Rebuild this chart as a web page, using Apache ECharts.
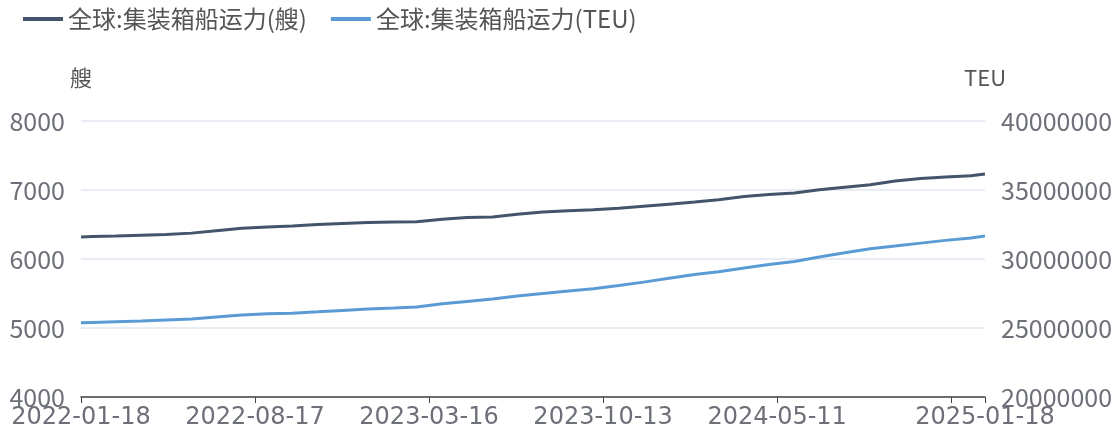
<!DOCTYPE html>
<html>
<head>
<meta charset="utf-8">
<script src="https://cdn.jsdelivr.net/npm/echarts@6/dist/echarts.min.js"></script>
<style>
html,body{margin:0;padding:0;background:#fff;}
#chart{width:1119px;height:439px;}
</style>
</head>
<body>
<div id="chart"></div>
<script>
// Category axis: daily dates from start to end
const startDate = '2022-01-18';
const endDate = '2025-01-18';
const labelStep = 211;

// Sampled readings (date, value)
const sampleDates = [
  '2022-01-18','2022-02-01','2022-03-01','2022-04-01','2022-05-01','2022-06-01','2022-07-01','2022-08-01',
  '2022-09-01','2022-10-01','2022-11-01','2022-12-01','2023-01-01','2023-02-01','2023-03-01','2023-04-01',
  '2023-05-01','2023-06-01','2023-07-01','2023-08-01','2023-09-01','2023-10-01','2023-11-01','2023-12-01',
  '2024-01-01','2024-02-01','2024-03-01','2024-04-01','2024-05-01','2024-06-01','2024-07-01','2024-08-01',
  '2024-09-01','2024-10-01','2024-11-01','2024-12-01','2025-01-01','2025-01-18'
];
const shipsValues = [
  6320,6325,6333,6345,6355,6375,6410,6445,
  6465,6480,6500,6515,6530,6535,6540,6575,
  6600,6610,6650,6680,6700,6715,6735,6765,
  6795,6825,6860,6905,6935,6955,7005,7040,
  7075,7130,7165,7190,7205,7232
];
const teuValues = [
  25375000,25400000,25450000,25500000,25575000,25650000,25800000,25950000,
  26025000,26075000,26175000,26275000,26375000,26450000,26525000,26750000,
  26925000,27100000,27325000,27500000,27675000,27850000,28075000,28325000,
  28600000,28875000,29075000,29350000,29600000,29825000,30150000,30450000,
  30750000,30950000,31150000,31350000,31525000,31665000
];
const seriesNames = ['全球:集装箱船运力(艘)', '全球:集装箱船运力(TEU)'];
const leftAxisName = '艘';
const rightAxisName = 'TEU';

function pad(n){return n<10?'0'+n:''+n;}
const categories = [];
(function(){
  const d = new Date(startDate + 'T00:00:00Z');
  const e = new Date(endDate + 'T00:00:00Z');
  while (d <= e) {
    categories.push(d.getUTCFullYear() + '-' + pad(d.getUTCMonth()+1) + '-' + pad(d.getUTCDate()));
    d.setUTCDate(d.getUTCDate()+1);
  }
})();
const lastIdx = categories.length - 1;

const chart = echarts.init(document.getElementById('chart'), null, {renderer:'canvas'});
const fontFam = '"Noto Sans CJK SC", "Noto Sans", sans-serif';
const xFont = '"DejaVu Sans", sans-serif';
chart.setOption({
  animation: false,
  color: ['#44546A', '#5B9BD5'],
  legend: {
    left: 18, top: 2,
    icon: 'rect', itemWidth: 40, itemHeight: 4, itemGap: 24,
    textStyle: {fontSize: 24, color: '#555', fontFamily: fontFam},
    data: seriesNames
  },
  grid: {left: 81, right: 134, top: 121, bottom: 42},
  xAxis: {
    type: 'category',
    boundaryGap: false,
    data: categories,
    axisLine: {lineStyle: {color: '#444', width: 1.5}},
    axisTick: {show: true, length: 6, lineStyle: {color: '#444'},
      interval: function(i){ return i % labelStep === 0 || i === lastIdx; }},
    axisLabel: {
      fontSize: 24, color: '#6E7079', margin: 9, fontFamily: xFont,
      interval: function(i){ return (i % labelStep === 0 && lastIdx - i > 100) || i === lastIdx; }
    },
    splitLine: {show: false}
  },
  yAxis: [
    {
      type: 'value', name: leftAxisName, min: 4000, max: 8000, interval: 1000,
      nameTextStyle: {fontSize: 22, color: '#555', fontFamily: fontFam, align: 'center'},
      nameGap: 32,
      axisLine: {show: false}, axisTick: {show: false},
      axisLabel: {fontSize: 25, color: '#6E7079', margin: 16, fontFamily: fontFam,
        formatter: function(v){ return String(v); }},
      splitLine: {lineStyle: {color: '#E0E6F1', width: 1.5}}
    },
    {
      type: 'value', name: rightAxisName, min: 20000000, max: 40000000, interval: 5000000,
      nameTextStyle: {fontSize: 22, color: '#555', fontFamily: fontFam, align: 'center'},
      nameGap: 32,
      axisLine: {show: false}, axisTick: {show: false},
      axisLabel: {fontSize: 25, color: '#6E7079', margin: 16, fontFamily: fontFam,
        formatter: function(v){ return String(v); }},
      splitLine: {show: false}
    }
  ],
  series: [
    {
      name: seriesNames[0], type: 'line', yAxisIndex: 0, symbol: 'none',
      lineStyle: {width: 3},
      data: sampleDates.map((d, i) => [d, shipsValues[i]])
    },
    {
      name: seriesNames[1], type: 'line', yAxisIndex: 1, symbol: 'none',
      lineStyle: {width: 3},
      data: sampleDates.map((d, i) => [d, teuValues[i]])
    }
  ]
});
</script>
</body>
</html>
